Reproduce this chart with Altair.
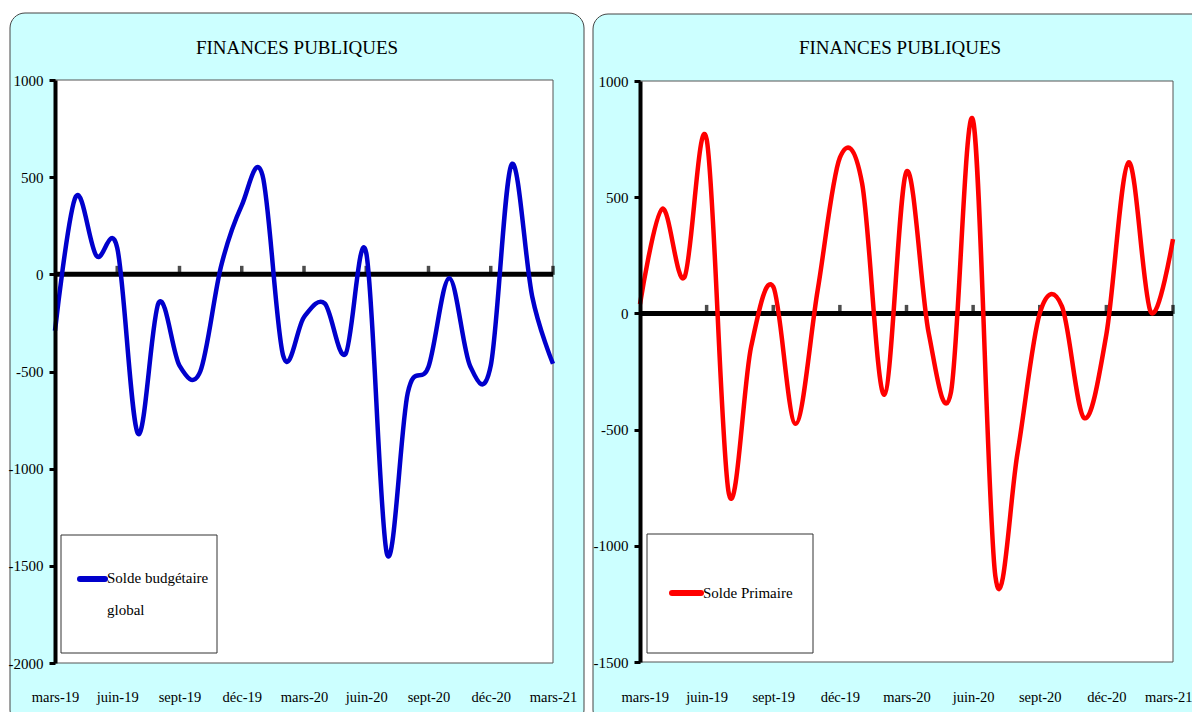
import json
import altair as alt
import pandas as pd

# ---------------- data ----------------
MONTHS = ["mars-19", "avr-19", "mai-19", "juin-19", "juil-19", "août-19", "sept-19",
          "oct-19", "nov-19", "déc-19", "janv-20", "févr-20", "mars-20", "avr-20",
          "mai-20", "juin-20", "juil-20", "août-20", "sept-20", "oct-20", "nov-20",
          "déc-20", "janv-21", "févr-21", "mars-21"]

SOLDE_BUDGETAIRE = [-290, 400, 95, 135, -820, -145, -470, -500, 40, 355, 510, -420,
                    -220, -150, -410, 110, -1440, -610, -475, -20, -470, -470, 565,
                    -115, -460]

SOLDE_PRIMAIRE = [40, 450, 155, 750, -775, -145, 115, -475, 100, 670, 560, -350,
                  610, -85, -340, 830, -1130, -600, 0, 30, -450, -90, 650, 5, 320]

SERIES = ["Solde budgétaire global", "Solde Primaire"]
LEGEND_LINES = [["Solde budgétaire", "global"], ["Solde Primaire"]]
TITLE = "FINANCES PUBLIQUES"
LABEL_STEP = 3
Y_TICKS_LEFT = [-2000, -1500, -1000, -500, 0, 500, 1000]
Y_TICKS_RIGHT = [-1500, -1000, -500, 0, 500, 1000]

FONT = "Liberation Serif"
BLUE = "#0000CC"
RED = "#FF0000"
CYAN = "#CCFFFF"

N = len(MONTHS)
label_expr = json.dumps(MONTHS, ensure_ascii=False) + "[datum.value]"
one = pd.DataFrame({"k": [0]})


def panel(values, color, xrange, yrange, ydomain, yticks, yoffset, flush=None):
    xs = alt.Scale(domain=[0, N - 1], range=xrange, nice=False, zero=False)
    ys = alt.Scale(domain=ydomain, range=yrange, nice=False, zero=False)
    df = pd.DataFrame({"idx": list(range(N)), "value": values})
    flush_args = {"labelFlush": False} if flush is None else {
        "labelFlush": True, "labelFlushOffset": flush}
    xaxis = alt.Axis(values=list(range(0, N, LABEL_STEP)), labelExpr=label_expr,
                     orient="bottom", offset=-26, domain=False, ticks=False, tickSize=0,
                     grid=False, labelPadding=4, labelFont=FONT, labelFontSize=14.5,
                     labelColor="black", labelOverlap=False,
                     title=None, zindex=1, **flush_args)
    yaxis = alt.Axis(values=yticks, labelExpr="'' + datum.value", orient="left",
                     offset=yoffset, domain=True, domainColor="black", domainWidth=4,
                     ticks=True, tickColor="black", tickWidth=3, tickSize=6,
                     grid=False, labelPadding=6, labelFont=FONT, labelFontSize=15,
                     labelColor="black", title=None, zindex=1)
    zero = alt.Chart(one).mark_rule(color="black", strokeWidth=5).encode(
        x=alt.X(datum=0, scale=xs, axis=None),
        x2=alt.X2(datum=N - 1),
        y=alt.Y(datum=0, scale=ys, axis=None),
    )
    ticks = alt.Chart(pd.DataFrame({"idx": list(range(LABEL_STEP, N, LABEL_STEP))})).mark_tick(
        color="black", thickness=3.5, size=9, orient="vertical", yOffset=-4
    ).encode(
        x=alt.X("idx:Q", scale=xs, axis=None),
        y=alt.Y(datum=0, scale=ys, axis=None),
    )
    line = alt.Chart(df).mark_line(color=color, strokeWidth=4.5, interpolate="cardinal").encode(
        x=alt.X("idx:Q", scale=xs, axis=xaxis),
        y=alt.Y("value:Q", scale=ys, axis=yaxis),
    )
    return [zero, ticks, line]


def rect(x, x2, y, y2, fill, stroke, radius=0):
    return alt.Chart(one).mark_rect(fill=fill, stroke=stroke, strokeWidth=1,
                                    cornerRadius=radius).encode(
        x=alt.value(x), x2=alt.value(x2), y=alt.value(y), y2=alt.value(y2))


def text(x, y, t, size, align="center", baseline="middle"):
    return alt.Chart(one).mark_text(font=FONT, fontSize=size, color="black", align=align,
                                    baseline=baseline, lineHeight=32).encode(
        x=alt.value(x), y=alt.value(y), text=alt.value(t))


def legend_line(x, x2, y, color):
    return alt.Chart(one).mark_rule(color=color, strokeWidth=6, strokeCap="round").encode(
        x=alt.value(x), x2=alt.value(x2), y=alt.value(y))


layers = [
    rect(2, 576, 5, 717, CYAN, "#444444", 15),
    rect(585, 1199, 6, 717, CYAN, "#444444", 15),
    rect(47, 545, 72, 655, "white", "#555555"),
    rect(632, 1165, 73, 654, "white", "#555555"),
]
layers += panel(SOLDE_BUDGETAIRE, BLUE, [47, 545], [655, 72], [-2000, 1000],
                Y_TICKS_LEFT, -47)
layers += panel(SOLDE_PRIMAIRE, RED, [632, 1165], [654, 73], [-1500, 1000],
                Y_TICKS_RIGHT, -632, flush=19)
layers += [
    rect(53, 209, 527, 645, "white", "#333333"),
    legend_line(72, 97, 571, BLUE),
    text(99, 563, LEGEND_LINES[0], 15, align="left", baseline="top"),
    rect(639, 805, 526, 645, "white", "#333333"),
    legend_line(664, 693, 585, RED),
    text(695, 585, LEGEND_LINES[1][0], 15, align="left"),
    text(289, 40, TITLE, 19),
    text(892, 40, TITLE, 19),
]

chart = alt.layer(*layers).resolve_scale(x="independent", y="independent").properties(
    width=1184, height=704, padding=0,
    autosize=alt.AutoSizeParams(type="none"),
).configure_view(stroke=None)

chart.save("out.html", embed_options={"renderer": "svg", "actions": False})
